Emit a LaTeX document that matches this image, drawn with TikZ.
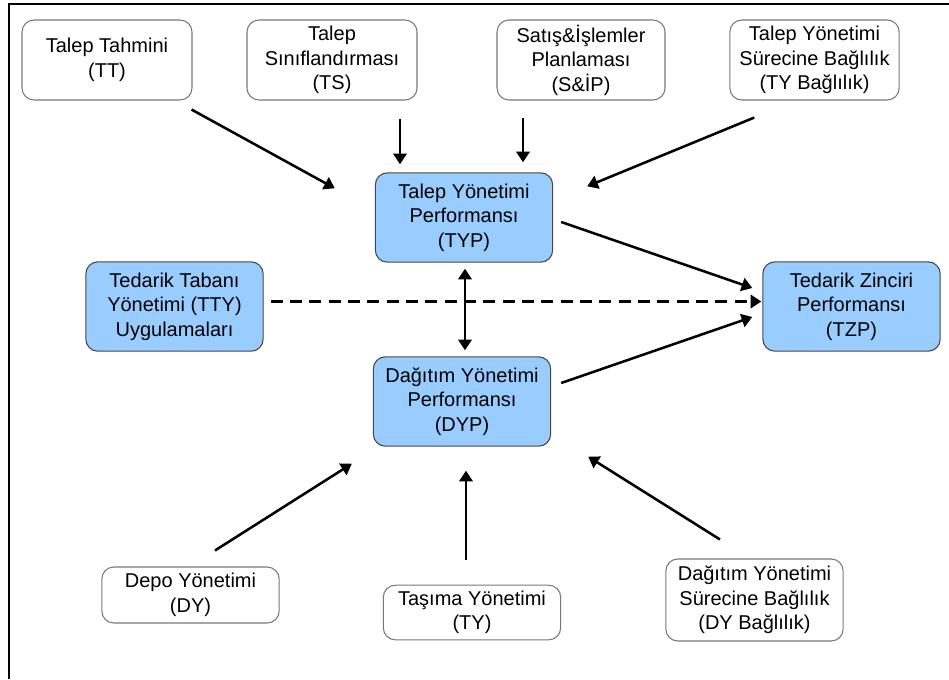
\documentclass[tikz,border=0pt]{standalone}
\usepackage{fontspec}
\setmainfont{Liberation Sans}
\usetikzlibrary{arrows.meta}

\definecolor{boxblue}{RGB}{153,204,255}
\definecolor{greyline}{RGB}{120,120,120}
\definecolor{darkline}{RGB}{70,70,70}

\tikzset{
  basebox/.style={rounded corners=9pt, align=center, inner sep=0pt,
    font=\fontsize{15pt}{18.4pt}\selectfont},
  whitebox/.style={basebox, draw=greyline, line width=0.8pt, fill=white},
  bluebox/.style={basebox, draw=darkline, line width=0.8pt, fill=boxblue,
    minimum width=133pt, minimum height=67pt},
  link/.style={line width=1.9pt, -{Triangle[length=8pt,width=10pt]}},
  duallink/.style={line width=1.9pt, {Triangle[length=8pt,width=10pt]}-{Triangle[length=8pt,width=10pt]}},
  dashlink/.style={link, dash pattern=on 9pt off 5.5pt},
}

\begin{document}
\begin{tikzpicture}[x=0.75pt, y=-0.75pt]
    \useasboundingbox (0,0) rectangle (949,679);
    \draw[line width=1.5pt] (9,679) -- (9,4) -- (949,4);

    % top row
    \node[whitebox, minimum width=127.5pt, minimum height=60pt] (tt) at (107,60)
        {Talep Tahmini\\(TT)};
    \node[whitebox, minimum width=127.5pt, minimum height=60pt] (ts) at (332,60)
        {Talep\\Sınıflandırması\\(TS)};
    \node[whitebox, minimum width=126pt, minimum height=60pt] (sip) at (581,60)
        {Satış\&İşlemler\\Planlaması\\(S\&İP)};
    \node[whitebox, minimum width=127pt, minimum height=60pt] (tyb) at (814.5,60)
        {Talep Yönetimi\\Sürecine Bağlılık\\(TY Bağlılık)};

    % middle
    \node[bluebox] (typ) at (464,217.5) {Talep Yönetimi\\Performansı\\(TYP)};
    \node[bluebox] (tty) at (174.5,306.5) {Tedarik Tabanı\\Yönetimi (TTY)\\Uygulamaları};
    \node[bluebox] (tzp) at (851.5,306.5) {Tedarik Zinciri\\Performansı\\(TZP)};
    \node[bluebox] (dyp) at (462,401.5) {Dağıtım Yönetimi\\Performansı\\(DYP)};

    % bottom row
    \node[whitebox, minimum width=133pt, minimum height=42pt] (dy) at (190.5,595)
        {Depo Yönetimi\\(DY)};
    \node[whitebox, minimum width=133pt, minimum height=41pt] (ty) at (472,612.5)
        {Taşıma Yönetimi\\(TY)};
    \node[whitebox, minimum width=133pt, minimum height=61.5pt] (dyb) at (754.5,600)
        {Dağıtım Yönetimi\\Sürecine Bağlılık\\(DY Bağlılık)};

    % arrows into TYP
    \draw[link] ([shift={(-1,9)}]tt.south east) -- ([shift={(-40,16)}]typ.north west);
    \draw[link] ([shift={(68,18)}]ts.south) -- ([shift={(-64,-8)}]typ.north);
    \draw[link] ([shift={(-58,17)}]sip.south) -- ([shift={(59,-10)}]typ.north);
    \draw[link] ([shift={(25,17)}]tyb.south west) -- ([shift={(34,14)}]typ.north east);

    % into TZP
    \draw[link] ([shift={(8,4.5)}]typ.east) -- ([shift={(-10,-18.5)}]tzp.west);
    \draw[dashlink] ([shift={(7,-5)}]tty.east) -- ([shift={(-1,-5)}]tzp.west);
    \draw[link] ([shift={(10,-18.5)}]dyp.east) -- ([shift={(-10,10.5)}]tzp.west);
    \draw[duallink] ([shift={(1,6)}]typ.south) -- ([shift={(3,-6)}]dyp.north);

    % arrows into DYP
    \draw[link] ([shift={(24.5,-16)}]dy.north) -- ([shift={(-21,17)}]dyp.south west);
    \draw[link] ([shift={(-6,-25)}]ty.north) -- ([shift={(4,24)}]dyp.south);
    \draw[link] ([shift={(-34.5,-19)}]dyb.north) -- ([shift={(37,10)}]dyp.south east);
\end{tikzpicture}
\end{document}
